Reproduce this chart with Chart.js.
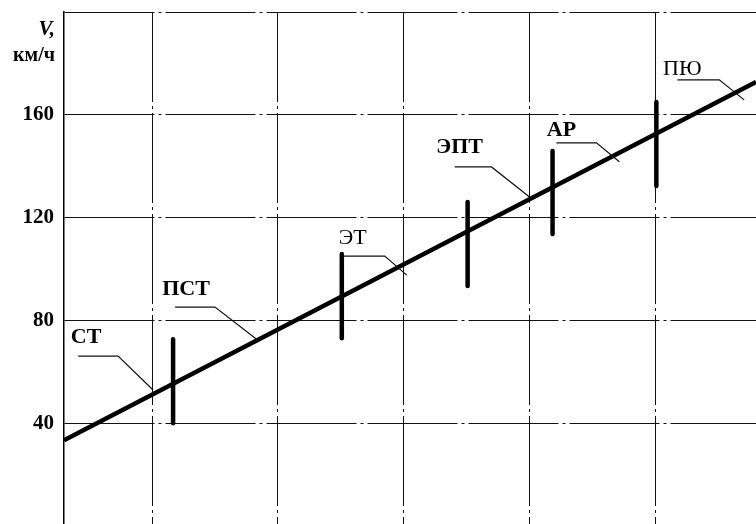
<!DOCTYPE html>
<html>
<head>
<meta charset="utf-8">
<script src="https://cdn.jsdelivr.net/npm/chart.js@4/dist/chart.umd.min.js"></script>
<style>
  html, body { margin: 0; padding: 0; background: #fff; overflow: hidden; }
  #wrap { width: 756px; height: 524px; overflow: hidden; }
</style>
</head>
<body>
<div id="wrap"><canvas id="speedChart" width="756" height="530"></canvas></div>
<script>
// === data ===
const xGrid = [1, 2, 3, 4, 5];          // vertical grid lines (x has no labels)
const xMin = 0.3, xMax = 5.8;
const vMin = 0, vMax = 200, vStep = 40; // km/h

// main trend line V(x)
const trendX = [0.3, 5.8];
const trendV = [33.4, 172.8];

// vertical range bars
const barX  = [1.167, 2.508, 3.508, 4.183, 5.008];
const barLo = [40.0, 73.1, 93.4, 113.6, 132.3];
const barHi = [72.7, 105.8, 126.1, 145.9, 165.0];

// labels and their leader lines (data units)
const labelNames = ["СТ", "ПСТ", "ЭТ", "ЭПТ", "АР", "ПЮ"];
const labelX = [0.476, 1.270, 2.595, 3.444, 4.254, 5.214];
const labelV = [73.5, 92.2, 112.1, 147.5, 154.1, 177.9];
const leaderX = [
    [0.413, 0.730, 1.008],
    [1.183, 1.500, 1.841],
    [2.508, 2.849, 3.024],
    [3.405, 3.698, 4.000],
    [4.214, 4.532, 4.714],
    [5.175, 5.508, 5.706],
];
const leaderV = [
    [66.1, 66.1, 52.9],
    [85.2, 85.2, 72.3],
    [105.0, 105.0, 97.6],
    [139.7, 139.7, 128.0],
    [149.1, 149.1, 141.7],
    [173.6, 173.6, 165.8],
];

const SERIF = "'Liberation Serif', 'DejaVu Serif', serif";
const lightLabels = new Set(["ЭТ", "ПЮ"]);

function pts(xs, vs) {
    return xs.map((x, i) => ({ x: x, y: vs[i] }));
}

const datasets = [];

// leaders
leaderX.forEach((xs, i) => {
    datasets.push({
        data: pts(xs, leaderV[i]),
        showLine: true,
        borderColor: "#111",
        borderWidth: 1.2,
        pointRadius: 0,
    });
});

// bars
barX.forEach((x, i) => {
    datasets.push({
        data: [{ x: x, y: barLo[i] }, { x: x, y: barHi[i] }],
        showLine: true,
        borderColor: "#000",
        borderWidth: 4.5,
        borderCapStyle: "round",
        pointRadius: 0,
    });
});

// main line
datasets.push({
    data: pts(trendX, trendV),
    showLine: true,
    borderColor: "#000",
    borderWidth: 4.5,
    pointRadius: 0,
});

// texts: axis title + labels
const textPlugin = {
    id: "texts",
    afterDraw(chart) {
        const ctx = chart.ctx;
        const xs = chart.scales.x, ys = chart.scales.y;
        ctx.save();
        ctx.fillStyle = "#000";
        ctx.textBaseline = "middle";

        // axis title
        ctx.textAlign = "right";
        ctx.font = "italic bold 21px " + SERIF;
        ctx.fillText("V,", 55, 30);
        ctx.font = "bold 20px " + SERIF;
        ctx.fillText("км/ч", 55, 56);

        // labels
        ctx.textAlign = "center";
        labelNames.forEach((name, i) => {
            const w = lightLabels.has(name) ? "normal" : "bold";
            ctx.font = w + " 22px " + SERIF;
            ctx.fillText(name, xs.getPixelForValue(labelX[i]), ys.getPixelForValue(labelV[i]));
        });
        ctx.restore();
    },
};

new Chart(document.getElementById("speedChart"), {
    type: "scatter",
    data: { datasets: datasets },
    plugins: [textPlugin],
    options: {
        responsive: false,
        devicePixelRatio: 1,
        animation: false,
        layout: { padding: { top: 12, bottom: 4, left: 0, right: 0 } },
        plugins: { legend: { display: false }, tooltip: { enabled: false } },
        scales: {
            x: {
                type: "linear",
                min: xMin,
                max: xMax,
                afterBuildTicks: (s) => { s.ticks = xGrid.map((v) => ({ value: v })); },
                afterFit: (s) => { s.height = 0; s.paddingLeft = 0; s.paddingRight = 0; },
                ticks: { display: false },
                grid: { color: "#111", lineWidth: 1, drawTicks: false },
                border: { display: false, dash: [90, 4, 3, 4] },
            },
            y: {
                type: "linear",
                min: vMin,
                max: vMax,
                afterFit: (s) => { s.width = 64; s.paddingTop = 0; s.paddingBottom = 0; },
                ticks: {
                    stepSize: vStep,
                    padding: 10,
                    color: "#000",
                    font: { family: SERIF, size: 21, weight: "bold" },
                    callback: (v) => (v === vMin || v === vMax ? "" : v),
                },
                grid: { color: "#111", lineWidth: 1, drawTicks: false },
                border: { display: true, color: "#000", width: 1.5, dash: [90, 4, 3, 4] },
            },
        },
    },
});
</script>
</body>
</html>
